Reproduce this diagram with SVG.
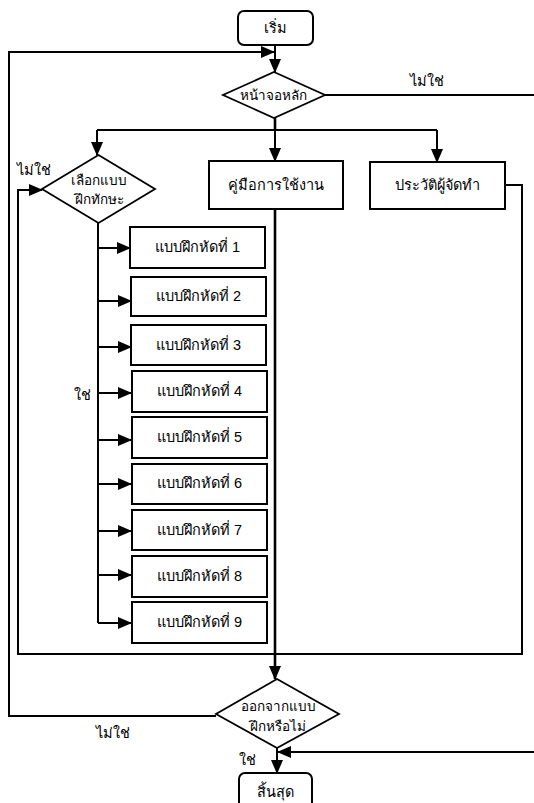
<svg xmlns="http://www.w3.org/2000/svg" width="534" height="803" viewBox="0 0 534 803">
<style>
.box{fill:#fff;stroke:#000;stroke-width:2}
.dia{fill:#fff;stroke:#000;stroke-width:1.8}
.ln{fill:none;stroke:#000;stroke-width:2}
.thk{fill:none;stroke:#000;stroke-width:2.6}
text{font-family:"Liberation Sans","Noto Sans",sans-serif;font-size:14.5px;fill:#000;text-anchor:middle}
.dt{font-size:13.5px}
</style>
<defs>
<marker id="arr" markerUnits="userSpaceOnUse" markerWidth="14" markerHeight="12" refX="13" refY="6" orient="auto">
<path d="M0,0 L14,6 L0,12 z" fill="#000"/>
</marker>
</defs>
<rect width="534" height="803" fill="#fff"/>
<g id="connectors">
<path class="ln" d="M275,45 V72" marker-end="url(#arr)"/>
<path class="ln" d="M216,716 H9 V52 H274" marker-end="url(#arr)"/>
<path class="ln" d="M325,95 H534"/>
<path class="thk" d="M275,118 V130"/>
<path class="ln" d="M97,130 H437"/>
<path class="ln" d="M97,130 V155" marker-end="url(#arr)"/>
<path class="ln" d="M275,130 V161" marker-end="url(#arr)"/>
<path class="ln" d="M437,130 V162" marker-end="url(#arr)"/>
<path class="ln" d="M98,223 V623"/>
<path class="ln" d="M98,248 H130" marker-end="url(#arr)"/>
<path class="ln" d="M98,301 H131" marker-end="url(#arr)"/>
<path class="ln" d="M98,347 H131" marker-end="url(#arr)"/>
<path class="ln" d="M98,393 H131" marker-end="url(#arr)"/>
<path class="ln" d="M98,440 H131" marker-end="url(#arr)"/>
<path class="ln" d="M98,484 H131" marker-end="url(#arr)"/>
<path class="ln" d="M98,531 H131" marker-end="url(#arr)"/>
<path class="ln" d="M98,575 H131" marker-end="url(#arr)"/>
<path class="ln" d="M98,623 H131" marker-end="url(#arr)"/>
<path class="ln" d="M505,185 H522 V654 H18 V190 H42" marker-end="url(#arr)"/>
<path class="thk" d="M275,209 V679" marker-end="url(#arr)"/>
<path class="ln" d="M277,748 V773" marker-end="url(#arr)"/>
<path class="ln" d="M534,752 H278" marker-end="url(#arr)"/>
</g>
<g id="start"><rect class="box" x="238" y="11" width="75" height="34" rx="6"/><text x="275.5" y="33">เริ่ม</text></g>
<g id="main"><polygon class="dia" points="274,72 325,95 274,118 223,95"/><text class="dt" x="273" y="100">หน้าจอหลัก</text></g>
<g id="choose"><polygon class="dia" points="98.5,155 155,189 98.5,223 42,189"/><text class="dt" x="99" y="185">เลือกแบบ</text><text class="dt" x="99" y="204">ฝึกทักษะ</text></g>
<g id="manual"><rect class="box" x="209" y="161" width="134" height="48"/><text x="276" y="190">คู่มือการใช้งาน</text></g>
<g id="history"><rect class="box" x="370" y="162" width="135" height="47"/><text x="437.5" y="190">ประวัติผู้จัดทำ</text></g>
<g id="ex1"><rect class="box" x="130" y="227" width="135" height="41"/><text x="197.5" y="252">แบบฝึกหัดที่ 1</text></g>
<g id="ex2"><rect class="box" x="131" y="277" width="135" height="39"/><text x="198.5" y="301">แบบฝึกหัดที่ 2</text></g>
<g id="ex3"><rect class="box" x="131" y="325" width="135" height="40"/><text x="198.5" y="350">แบบฝึกหัดที่ 3</text></g>
<g id="ex4"><rect class="box" x="132" y="371" width="135" height="41"/><text x="199.5" y="396">แบบฝึกหัดที่ 4</text></g>
<g id="ex5"><rect class="box" x="132" y="417" width="135" height="41"/><text x="199.5" y="442">แบบฝึกหัดที่ 5</text></g>
<g id="ex6"><rect class="box" x="132" y="464" width="135" height="40"/><text x="199.5" y="488">แบบฝึกหัดที่ 6</text></g>
<g id="ex7"><rect class="box" x="132" y="510" width="135" height="40"/><text x="199.5" y="535">แบบฝึกหัดที่ 7</text></g>
<g id="ex8"><rect class="box" x="132" y="556" width="135" height="41"/><text x="199.5" y="581">แบบฝึกหัดที่ 8</text></g>
<g id="ex9"><rect class="box" x="132" y="602" width="135" height="41"/><text x="199.5" y="627">แบบฝึกหัดที่ 9</text></g>
<g id="exit"><polygon class="dia" points="277,679 339,714 277,748 216,714"/><text class="dt" x="278" y="711">ออกจากแบบ</text><text class="dt" x="278" y="731">ฝึกหรือไม่</text></g>
<g id="end"><rect class="box" x="239" y="773" width="73" height="40" rx="6"/><text x="275.5" y="797">สิ้นสุด</text></g>
<g id="labels">
<text x="427" y="86">ไม่ใช่</text>
<text x="34" y="175">ไม่ใช่</text>
<text x="82" y="400">ใช่</text>
<text x="113" y="738">ไม่ใช่</text>
<text x="247" y="765">ใช่</text>
</g>
</svg>
